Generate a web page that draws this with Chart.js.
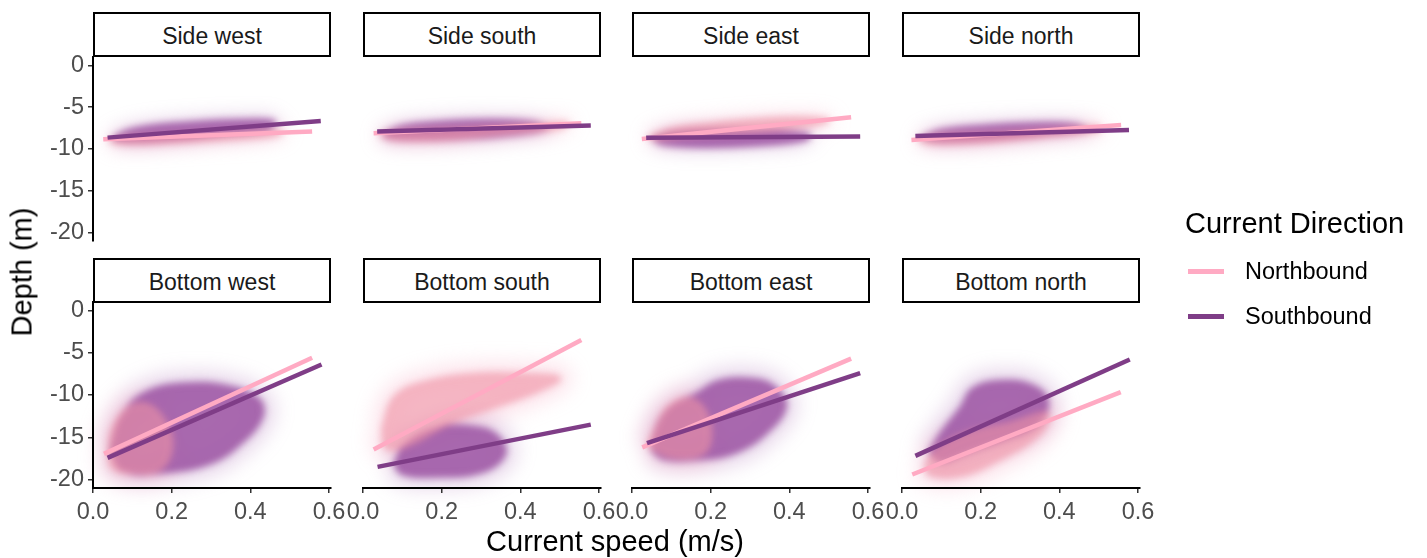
<!DOCTYPE html>
<html>
<head>
<meta charset="utf-8">
<script src="https://cdn.jsdelivr.net/npm/chart.js@4.4.1/dist/chart.umd.min.js"></script>
<style>
  body { margin: 0; background: #fff; }
  #root { position: relative; width: 1427px; height: 558px; overflow: hidden;
          font-family: "Liberation Sans", Arial, sans-serif; background: #fff; }
  .strip { position: absolute; box-sizing: border-box; border: 2px solid #000; background: #fff; }
  .txt { position: absolute; line-height: 1; white-space: nowrap; }
  canvas { position: absolute; }
</style>
</head>
<body>
<div id="root"></div>
<script>
// facet labels, ticks
const panelNames = ['Side west', 'Side south', 'Side east', 'Side north',
                    'Bottom west', 'Bottom south', 'Bottom east', 'Bottom north'];
const xTicks = [0, 0.2, 0.4, 0.6];
const xTickLabels = ['0.0', '0.2', '0.4', '0.6'];
const yTicks = [0, -5, -10, -15, -20];
const yTickLabels = ['0', '-5', '-10', '-15', '-20'];

// fitted lines, one [start, end] pair per panel
const northLineX = [[0.026, 0.557], [0.027, 0.555], [0.025, 0.557], [0.024, 0.557],
                    [0.028, 0.557], [0.027, 0.555], [0.026, 0.557], [0.026, 0.556]];
const northLineY = [[-8.84, -7.92], [-8.12, -6.92], [-8.8, -6.2], [-8.92, -7.12],
                    [-16.96, -5.6], [-16.45, -3.5], [-16.2, -5.7], [-19.4, -9.67]];
const southLineX = [[0.037, 0.579], [0.036, 0.579], [0.036, 0.58], [0.034, 0.577],
                    [0.037, 0.581], [0.037, 0.579], [0.038, 0.58], [0.034, 0.579]];
const southLineY = [[-8.64, -6.64], [-7.92, -7.2], [-8.64, -8.52], [-8.44, -7.72],
                    [-17.43, -6.39], [-18.5, -13.5], [-15.7, -7.4], [-17.2, -5.8]];

// outline of each point cloud (speed, depth)
const southCloud = [
  [[0.05,-8.7],[0.09,-7.8],[0.16,-7.2],[0.27,-6.8],[0.38,-6.6],[0.46,-6.7],[0.45,-7.4],[0.33,-8.2],[0.2,-8.9],[0.09,-9.2]],
  [[0.05,-8.2],[0.1,-7.3],[0.2,-6.8],[0.32,-6.6],[0.44,-6.9],[0.47,-7.6],[0.38,-8.3],[0.24,-8.8],[0.12,-8.9],[0.06,-8.7]],
  [[0.05,-8.8],[0.1,-8.1],[0.2,-7.8],[0.32,-7.9],[0.45,-8.3],[0.44,-8.9],[0.32,-9.5],[0.18,-9.7],[0.08,-9.4]],
  [[0.05,-8.6],[0.1,-7.8],[0.2,-7.3],[0.32,-7.0],[0.44,-7.1],[0.47,-7.7],[0.36,-8.4],[0.22,-8.9],[0.1,-9.1]],
  [[0.045,-16.5],[0.08,-12],[0.14,-9.6],[0.23,-8.7],[0.34,-9.0],[0.42,-10.5],[0.43,-12.5],[0.38,-15.5],[0.3,-18],[0.18,-19.1],[0.08,-19]],
  [[0.08,-18.2],[0.11,-15.8],[0.19,-14.0],[0.28,-13.8],[0.34,-14.8],[0.36,-17.0],[0.3,-19.1],[0.18,-19.6],[0.1,-19.3]],
  [[0.05,-16.5],[0.07,-13],[0.12,-10.8],[0.16,-10],[0.22,-8.4],[0.31,-8.2],[0.36,-9.0],[0.39,-11.3],[0.34,-14.5],[0.26,-16.8],[0.16,-17.6],[0.08,-17.5]],
  [[0.07,-16.8],[0.1,-14.5],[0.15,-11.5],[0.18,-9.3],[0.25,-8.4],[0.33,-8.9],[0.37,-10.8],[0.34,-13.6],[0.26,-15.2],[0.16,-16.8],[0.1,-17.8]]
];
const northCloud = [
  [[0.04,-9.0],[0.1,-8.6],[0.22,-8.4],[0.36,-8.1],[0.48,-7.9],[0.46,-8.4],[0.32,-8.9],[0.16,-9.3],[0.06,-9.3]],
  [[0.04,-8.3],[0.1,-7.9],[0.2,-7.7],[0.3,-7.5],[0.42,-7.2],[0.52,-6.9],[0.5,-7.5],[0.35,-8.2],[0.2,-8.9],[0.08,-8.9]],
  [[0.04,-8.6],[0.1,-7.6],[0.2,-7.0],[0.32,-6.5],[0.44,-6.3],[0.5,-6.6],[0.42,-7.4],[0.28,-8.0],[0.14,-8.4],[0.06,-8.8]],
  [[0.04,-8.9],[0.1,-8.4],[0.22,-8.2],[0.36,-7.8],[0.5,-7.3],[0.5,-7.8],[0.36,-8.5],[0.2,-9.2],[0.07,-9.3]],
  [[0.04,-17],[0.05,-14],[0.09,-11.5],[0.14,-11.2],[0.18,-13],[0.2,-16],[0.17,-18.8],[0.1,-19.2],[0.05,-18.6]],
  [[0.05,-14],[0.08,-10.3],[0.15,-8.6],[0.28,-7.6],[0.42,-7.6],[0.5,-8.0],[0.45,-9.4],[0.34,-11.3],[0.22,-13.3],[0.12,-15.8],[0.06,-16.3]],
  [[0.04,-16],[0.06,-14],[0.09,-11.5],[0.14,-10.4],[0.18,-11.5],[0.2,-14.5],[0.18,-16.9],[0.1,-17.3]],
  [[0.06,-18.2],[0.09,-16.4],[0.17,-14.5],[0.28,-13.3],[0.37,-12.2],[0.35,-14.6],[0.24,-17.8],[0.15,-19.5],[0.07,-19.4]]
];

const NORTH = '#FFAAC3';
const SOUTH = '#7F3D87';
const colLeft = [93, 363, 632, 902];
const rowTop = [57, 302];
const rowH = [184, 186];
const PW = 238;
const root = document.getElementById('root');

function addText(str, x, y, size, color, align, rotate) {
  const d = document.createElement('div');
  d.className = 'txt';
  d.textContent = str;
  d.style.fontSize = size + 'px';
  d.style.color = color;
  d.style.left = x + 'px';
  d.style.top = y + 'px';
  const tx = align === 'left' ? '0' : '-50%';
  d.style.transform = `translate(${tx}, -50%)` + (rotate ? ` rotate(${rotate}deg)` : '');
  root.appendChild(d);
}

function closed(pts) {
  return pts.concat([pts[0]]).map(p => ({ x: p[0], y: p[1] }));
}

function makeChart(i, layer) {
  const c = i % 4, r = Math.floor(i / 4);
  const main = layer === 'main';
  const showX = main && r === 1;
  const showY = main && c === 0;
  const yW = 85, xH = 40;
  const left = colLeft[c] - 90, top = rowTop[r] - 20;
  const w = PW + 90 + 40, h = rowH[r] + 20 + 50;
  const cv = document.createElement('canvas');
  cv.width = w; cv.height = h;
  cv.style.left = left + 'px';
  cv.style.top = top + 'px';
  if (layer === 'halo') cv.style.filter = 'blur(9px)';
  if (layer === 'core') cv.style.filter = 'blur(3.5px)';
  root.appendChild(cv);

  let datasets;
  if (main) {
    datasets = [
      { data: northLineX[i].map((x, k) => ({ x, y: northLineY[i][k] })), borderColor: NORTH, order: 2 },
      { data: southLineX[i].map((x, k) => ({ x, y: southLineY[i][k] })), borderColor: SOUTH, order: 1 }
    ].map(d => Object.assign(d, { borderWidth: 4.5, pointRadius: 0, fill: false, borderCapStyle: 'butt' }));
  } else {
    const halo = layer === 'halo';
    const sc = halo ? 'rgba(165,100,175,0.2)' : 'rgba(158,88,165,0.88)';
    const nc = halo ? 'rgba(245,160,188,0.22)' : 'rgba(240,148,165,0.58)';
    const bw = halo ? (r === 0 ? 12 : 28) : 3;
    datasets = [
      { data: closed(southCloud[i]), backgroundColor: sc, borderColor: sc, order: 2 },
      { data: closed(northCloud[i]), backgroundColor: nc, borderColor: nc, order: 1 }
    ].map(d => Object.assign(d, { fill: 'shape', tension: 0.4, borderWidth: bw, pointRadius: 0, clip: 20 }));
  }

  new Chart(cv, {
    type: 'line',
    data: { datasets },
    options: {
      responsive: false,
      animation: false,
      devicePixelRatio: 1,
      events: [],
      layout: { padding: { left: 90 - (showY ? yW : 0), top: 20, right: 40, bottom: 50 - (showX ? xH : 0) } },
      plugins: { legend: { display: false }, tooltip: { enabled: false } },
      scales: {
        x: {
          type: 'linear', min: 0, max: 0.605, display: showX,
          afterBuildTicks: s => { s.ticks = xTicks.map(v => ({ value: v })); },
          afterFit: s => { s.height = showX ? xH : 0; },
          ticks: { callback: (v, k) => xTickLabels[k], autoSkip: false, maxRotation: 0, padding: 5,
                   color: '#4D4D4D', font: { size: 23.5, family: '"Liberation Sans", Arial, sans-serif' } },
          grid: { display: true, drawOnChartArea: false, drawTicks: true, tickLength: 5, color: '#333', lineWidth: 1.5 },
          border: { display: true, color: '#000', width: 2 }
        },
        y: {
          type: 'linear', min: -21, max: 1, display: showY,
          afterBuildTicks: s => { s.ticks = yTicks.map(v => ({ value: v })); },
          afterFit: s => { s.width = showY ? yW : 0; },
          ticks: { callback: (v, k) => yTickLabels[k], autoSkip: false, padding: 4,
                   color: '#4D4D4D', font: { size: 23.5, family: '"Liberation Sans", Arial, sans-serif' } },
          grid: { display: true, drawOnChartArea: false, drawTicks: true, tickLength: 5, color: '#333', lineWidth: 1.5 },
          border: { display: true, color: '#000', width: 2 }
        }
      }
    }
  });
}

panelNames.forEach((name, i) => {
  const c = i % 4, r = Math.floor(i / 4);
  const s = document.createElement('div');
  s.className = 'strip';
  const sTop = r === 0 ? 12 : 258;
  s.style.left = colLeft[c] + 'px';
  s.style.top = sTop + 'px';
  s.style.width = PW + 'px';
  s.style.height = '45px';
  root.appendChild(s);
  addText(name, colLeft[c] + PW / 2, sTop + 24, 23, '#1A1A1A', 'center');
  makeChart(i, 'halo');
  makeChart(i, 'core');
  makeChart(i, 'main');
});

// axis titles
addText('Current speed (m/s)', 615, 541, 29, '#000', 'center');
addText('Depth (m)', 22, 272, 29, '#000', 'center', -90);

// legend
addText('Current Direction', 1185, 223, 29, '#000', 'left');
[['Northbound', NORTH, 271], ['Southbound', SOUTH, 316]].forEach(([lab, col, y]) => {
  const k = document.createElement('div');
  k.style.cssText = `position:absolute;left:1188px;top:${y - 2.5}px;width:36px;height:5px;background:${col}`;
  root.appendChild(k);
  addText(lab, 1245, y + 1, 23.5, '#000', 'left');
});
</script>
</body>
</html>
